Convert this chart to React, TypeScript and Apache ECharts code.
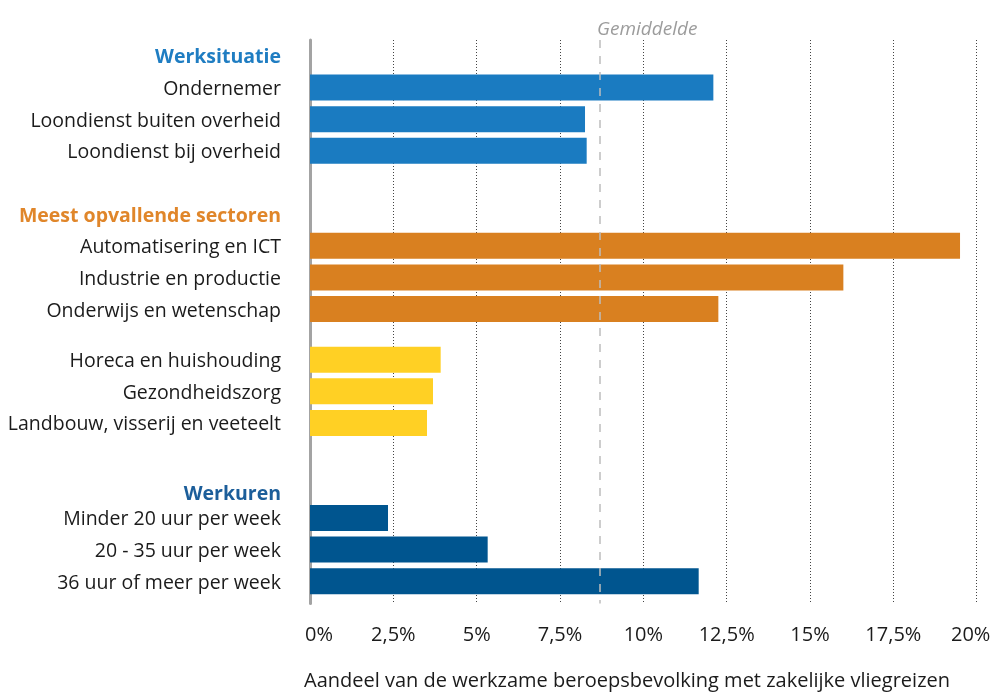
import React, { useEffect, useRef } from "react";
import * as echarts from "echarts";

// ---- Data ----
const groupTitles = ["Werksituatie", "Meest opvallende sectoren", "Werkuren"];

const werksituatieLabels = ["Ondernemer", "Loondienst buiten overheid", "Loondienst bij overheid"];
const werksituatieValues = [12.1, 8.25, 8.3];

const sectorTopLabels = ["Automatisering en ICT", "Industrie en productie", "Onderwijs en wetenschap"];
const sectorTopValues = [19.5, 16.0, 12.25];

const sectorLowLabels = ["Horeca en huishouding", "Gezondheidszorg", "Landbouw, visserij en veeteelt"];
const sectorLowValues = [3.92, 3.69, 3.51];

const werkurenLabels = ["Minder 20 uur per week", "20 - 35 uur per week", "36 uur of meer per week"];
const werkurenValues = [2.34, 5.33, 11.66];

const gemiddelde = 8.7;
const gemiddeldeLabel = "Gemiddelde";

const xTickLabels = ["0%", "2,5%", "5%", "7,5%", "10%", "12,5%", "15%", "17,5%", "20%"];
const axisTitle = "Aandeel van de werkzame beroepsbevolking met zakelijke vliegreizen";

// ---- Layout (slot positions on the fine-grained category axis) ----
const SLOT_COUNT = 89;
const ROW_STEP = 5;
const headerSlots = [2, 27, 71];

const BLUE = "#1a7bc1";
const ORANGE = "#d98020";
const YELLOW = "#ffd024";
const NAVY = "#00558f";
const headerColors = ["#1f7dc2", "#e0862a", "#1c5e9a"];

const groups = [
  { labels: werksituatieLabels, values: werksituatieValues, color: BLUE, start: 7 },
  { labels: sectorTopLabels, values: sectorTopValues, color: ORANGE, start: 32 },
  { labels: sectorLowLabels, values: sectorLowValues, color: YELLOW, start: 50 },
  { labels: werkurenLabels, values: werkurenValues, color: NAVY, start: 75 },
];

function buildAxis() {
  const cats: string[] = [];
  const data: any[] = [];
  for (let i = 0; i < SLOT_COUNT; i++) {
    cats.push("_" + i);
    data.push("-");
  }
  groupTitles.forEach((t, i) => {
    cats[headerSlots[i]] = t;
  });
  groups.forEach((g) => {
    g.labels.forEach((l, j) => {
      const s = g.start + j * ROW_STEP;
      cats[s] = l;
      data[s] = { value: g.values[j], itemStyle: { color: g.color } };
    });
  });
  return { cats, data };
}

export default function App() {
  const ref = useRef<HTMLDivElement>(null);

  useEffect(() => {
    if (!ref.current) return;
    const chart = echarts.init(ref.current, null, { renderer: "svg" });
    const { cats, data } = buildAxis();

    const rich: any = {};
    groupTitles.forEach((t, i) => {
      rich["h" + i] = {
        fontFamily: "Open Sans",
        fontSize: 19.5,
        fontWeight: "bold",
        color: headerColors[i],
      };
    });

    const option: any = {
      animation: false,
      textStyle: { fontFamily: "Open Sans" },
      title: {
        text: axisTitle,
        left: 304,
        top: 669,
        padding: 0,
        textStyle: {
          fontFamily: "Open Sans",
          fontSize: 20,
          fontWeight: "normal",
          color: "#1b1b1b",
        },
      },
      grid: {
        left: 310,
        right: 15.3,
        top: 40,
        bottom: 89.6,
        containLabel: false,
        outerBoundsMode: "none",
      },
      xAxis: {
        type: "value",
        min: 0,
        max: 20,
        interval: 2.5,
        axisLine: { show: false },
        axisTick: { show: false },
        splitLine: {
          show: true,
          lineStyle: { type: [1, 2], color: "#444", width: 1 },
        },
        axisLabel: {
          margin: 20,
          fontSize: 20,
          color: "#1b1b1b",
          fontFamily: "Open Sans",
          formatter: (v: number) => {
            const idx = Math.round(v / 2.5);
            const t = xTickLabels[idx];
            if (idx === 0) return "{first|" + t + "}";
            if (idx === xTickLabels.length - 1) return "{last|" + t + "}";
            return t;
          },
          rich: {
            first: { fontSize: 20, color: "#1b1b1b", fontFamily: "Open Sans", padding: [0, 0, 0, 18] },
            last: { fontSize: 20, color: "#1b1b1b", fontFamily: "Open Sans", padding: [0, 12, 0, 0] },
          },
        },
      },
      yAxis: {
        type: "category",
        inverse: true,
        data: cats,
        axisLine: { show: true, lineStyle: { color: "#a3a3a3", width: 3 } },
        axisTick: { show: false },
        splitLine: { show: false },
        axisLabel: {
          interval: 0,
          margin: 29,
          fontSize: 19.5,
          color: "#1b1b1b",
          fontFamily: "Open Sans",
          formatter: (v: string) => {
            if (v.startsWith("_")) return "";
            const hi = groupTitles.indexOf(v);
            if (hi >= 0) return "{h" + hi + "|" + v + "}";
            return v;
          },
          rich,
        },
      },
      series: [
        {
          type: "bar",
          data,
          barWidth: 26,
          silent: true,
          markLine: {
            silent: true,
            symbol: ["none", "none"],
            lineStyle: { type: [8, 8], color: "#bdbdbd", width: 1.5 },
            label: {
              show: true,
              position: "start",
              align: "left",
              distance: 3,
              offset: [-3, 0],
              formatter: gemiddeldeLabel,
              fontFamily: "Open Sans",
              fontStyle: "italic",
              fontSize: 19,
              color: "#9c9c9c",
            },
            data: [{ xAxis: gemiddelde }],
          },
        },
      ],
    };

    chart.setOption(option);
    return () => chart.dispose();
  }, []);

  return (
    <div
      ref={ref}
      style={{ position: "fixed", left: 0, top: 0, width: 992, height: 693 }}
    />
  );
}
